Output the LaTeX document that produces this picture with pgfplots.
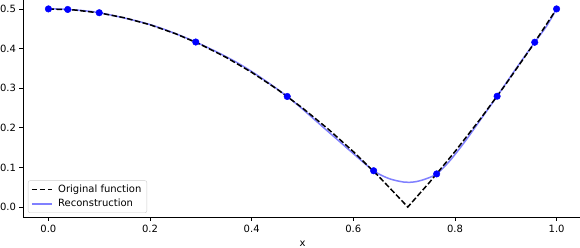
\documentclass[border=0pt]{standalone}
\usepackage{pgfplots}
\pgfplotsset{compat=1.18}
\usepackage{fontspec}
\setmainfont{DejaVu Sans}
\definecolor{recon}{RGB}{128,128,255}
\definecolor{node}{RGB}{0,0,255}
\begin{document}
\fontsize{10bp}{12bp}\selectfont
\begin{tikzpicture}
\begin{axis}[
  scale only axis,
  width=559bp, height=218bp,
  xmin=-0.05, xmax=1.05, ymin=-0.025, ymax=0.525,
  xtick={0,0.2,0.4,0.6,0.8,1.0},
  ytick={0,0.1,0.2,0.3,0.4,0.5},
  /pgf/number format/assume math mode=true,
  xticklabel style={yshift=-1.5bp, /pgf/number format/.cd,fixed,fixed zerofill,precision=1},
  yticklabel style={/pgf/number format/.cd,fixed,fixed zerofill,precision=1},
  tick align=outside, tick pos=left,
  major tick length=3.5bp,
  tick style={black, line width=0.8bp},
  axis line style={line width=0.8bp},
  ticklabel style={font=\fontsize{10bp}{12bp}\selectfont},
  xlabel={x},
  xlabel style={font=\fontsize{10bp}{12bp}\selectfont, yshift=-1bp},
  legend style={font=\fontsize{10bp}{12bp}\selectfont, draw=black!20, rounded corners=2bp,
    at={(5bp,4bp)}, anchor=south west, inner xsep=3bp, inner ysep=2bp, row sep=0bp,
    nodes={inner sep=2.5bp}},
  legend cell align=left,
  legend image code/.code={\draw[#1] (0bp,0bp) -- (20bp,0bp); \path (23bp,0bp);},
]
\addlegendimage{black, line width=1.5bp, dash pattern=on 5.55bp off 2.4bp}
\addlegendentry{Original function}
\addlegendimage{recon, line width=1.5bp}
\addlegendentry{Reconstruction}
\addplot[recon, line width=1.5bp, smooth, tension=0.5, forget plot] coordinates {
(0,0.5) (0.038,0.4986) (0.1,0.4904) (0.2,0.4605) (0.29,0.4165) (0.38,0.3580)
(0.47,0.2791) (0.55,0.1910) (0.6,0.1350) (0.64,0.0917) (0.67,0.0720) (0.7,0.0630)
(0.72,0.0635) (0.74,0.0700) (0.764,0.0837) (0.79,0.1170) (0.82,0.1660) (0.85,0.2200)
(0.883,0.2797) (0.92,0.3490) (0.957,0.4159) (0.98,0.4560) (1.0,0.5)
};
\addplot[black, line width=1.5bp, dash pattern=on 5.55bp off 2.4bp, forget plot] coordinates {
(0,0.5) (0.05,0.4975) (0.1,0.49) (0.15,0.4775) (0.2,0.46) (0.25,0.4375) (0.3,0.41)
(0.35,0.3775) (0.4,0.34) (0.45,0.2975) (0.5,0.25) (0.55,0.1975) (0.6,0.14) (0.65,0.0775)
(0.7,0.01) (0.7071,0) (0.75,0.0625) (0.8,0.14) (0.85,0.2225) (0.9,0.31) (0.95,0.4025) (1.0,0.5)
};
\addplot[only marks, mark=*, mark size=3.3bp, mark options={fill=node, draw=node}, forget plot] coordinates {
(0,0.5) (0.038,0.4986) (0.1,0.4904) (0.29,0.4165) (0.47,0.2791) (0.64,0.0917)
(0.764,0.0837) (0.883,0.2797) (0.957,0.4159) (1.0,0.5)
};
\end{axis}
\pgfresetboundingbox
\useasboundingbox ([xshift=-23bp,yshift=-31bp]current axis.south west) rectangle ([xshift=-2bp,yshift=-1bp]current axis.north east);
\end{tikzpicture}
\end{document}
